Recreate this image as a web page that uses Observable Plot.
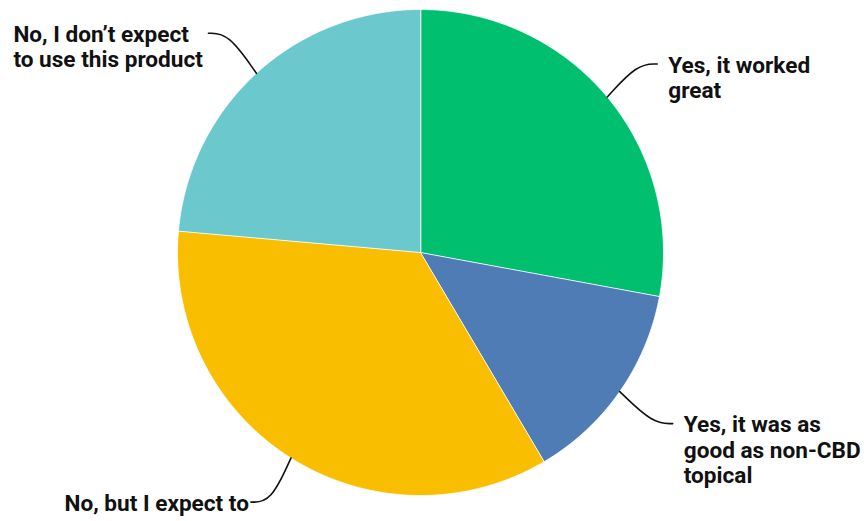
<!DOCTYPE html>
<html>
<head>
<meta charset="utf-8">
<script src="https://cdn.jsdelivr.net/npm/d3@7"></script>
<script src="https://cdn.jsdelivr.net/npm/@observablehq/plot@0.6"></script>
<style>
  html, body { margin: 0; padding: 0; background: #ffffff; }
  #chart svg { display: block; }
</style>
</head>
<body>
<div id="chart"></div>
<script>
// ---- data ----
const categories = [
  "Yes, it worked great",
  "Yes, it was as good as non-CBD topical",
  "No, but I expect to",
  "No, I don’t expect to use this product"
];
const values = [27.9, 13.6, 34.9, 23.6];
const colors = ["#00BF6F", "#507CB6", "#F9BE00", "#6BC8CD"];
const labelTexts = [
  "Yes, it worked\ngreat",
  "Yes, it was as\ngood as non-CBD\ntopical",
  "No, but I expect to",
  "No, I don’t expect\nto use this product"
];

// ---- layout (pixels) ----
const W = 864, H = 521, CX = 420, CY = 252, R = 243;
const FS = 22.6, LH = 1.135;
// offset from slice mid-edge to where the leader meets the label
const labelOffsets = [[50, -33], [53, 32], [-40, 44], [-48, -40]];
// horizontal offset of the text from that anchor, and text anchor
const textShift = [[11, "start"], [11, "start"], [-2, "end"], [-195, "start"]];
const elbow = 20; // px of horizontal run at the label end of a leader
const baselineDrop = 8.5; // px from leader anchor to first baseline

// ---- geometry derived from data ----
const arcs = d3.pie().sort(null).value(d => d)(values);
const slicePts = arcs.flatMap((a, i) => {
  const cat = categories[i];
  const pts = [{cat, x: 0, y: 0}];
  const n = Math.max(2, Math.ceil((a.endAngle - a.startAngle) / (Math.PI / 360)));
  for (let k = 0; k <= n; k++) {
    const t = a.startAngle + (a.endAngle - a.startAngle) * k / n;
    pts.push({cat, x: Math.sin(t), y: Math.cos(t)});
  }
  return pts;
});

const leaderPts = [];
const labels = [];
arcs.forEach((a, i) => {
  const mid = (a.startAngle + a.endAngle) / 2;
  const px = Math.sin(mid), py = Math.cos(mid);
  const ax = px + labelOffsets[i][0] / R;
  const ay = py - labelOffsets[i][1] / R;
  const side = labelOffsets[i][0] > 0 ? 1 : -1;
  const cat = categories[i];
  leaderPts.push({cat, x: px, y: py});
  leaderPts.push({cat, x: ax - side * elbow / R, y: ay});
  leaderPts.push({cat, x: ax, y: ay});
  labels.push({
    text: labelTexts[i],
    x: ax + textShift[i][0] / R,
    y: ay,
    anchor: textShift[i][1]
  });
});

const dyTop = baselineDrop - 0.71 * LH * FS;

const textMark = (anchor) => Plot.text(labels.filter(d => d.anchor === anchor), {
  x: "x", y: "y", text: "text",
  textAnchor: anchor, lineAnchor: "top", lineHeight: LH, dy: dyTop,
  fontSize: FS, fontWeight: 700, fontFamily: "Roboto, 'Open Sans', sans-serif",
  fill: "#111111"
});

const chart = Plot.plot({
  width: W,
  height: H,
  margin: 0,
  x: {domain: [-CX / R, (W - CX) / R], axis: null},
  y: {domain: [-(H - CY) / R, CY / R], axis: null},
  color: {domain: categories, range: colors},
  style: {background: "#ffffff", overflow: "visible"},
  marks: [
    Plot.line(slicePts, {x: "x", y: "y", z: "cat", fill: "cat", stroke: "#ffffff", strokeWidth: 0.8, curve: "linear-closed"}),
    Plot.line(leaderPts, {x: "x", y: "y", z: "cat", stroke: "#111111", strokeWidth: 1.6, curve: "basis"}),
    textMark("start"),
    textMark("end")
  ]
});
document.getElementById("chart").appendChild(chart);
</script>
</body>
</html>
